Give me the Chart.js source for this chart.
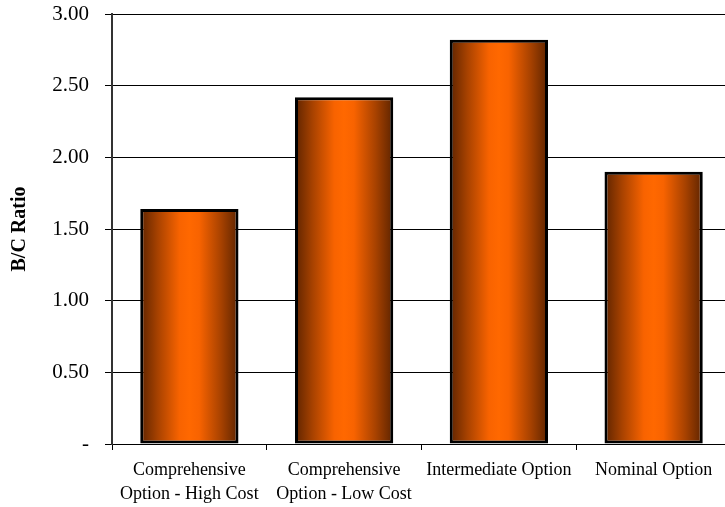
<!DOCTYPE html>
<html>
<head>
<meta charset="utf-8">
<script src="https://cdn.jsdelivr.net/npm/chart.js@4/dist/chart.umd.min.js"></script>
<style>
  html, body { margin: 0; padding: 0; background: #fff; overflow: hidden; width: 725px; height: 507px; }
  #wrap { width: 725px; height: 507px; overflow: hidden; }
  canvas { display: block; }
</style>
</head>
<body>
<div id="wrap"><canvas id="c" width="731" height="507"></canvas></div>
<script>
// B/C ratio per option
const categories = [
  ['Comprehensive', 'Option - High Cost'],
  ['Comprehensive', 'Option - Low Cost'],
  'Intermediate Option',
  'Nominal Option'
];
const bcRatio = [1.64, 2.42, 2.82, 1.90];
const yTickValues = [0, 0.5, 1.0, 1.5, 2.0, 2.5, 3.0];
const yTickLabels = ['-', '0.50', '1.00', '1.50', '2.00', '2.50', '3.00'];

const FONT = "'Liberation Serif', 'Times New Roman', serif";
const BAR_PCT = 0.635;

// Horizontal "cylinder" shading: dark brown edges, bright orange centre
function barGradient(ctx) {
  const chart = ctx.chart;
  const xs = chart.scales && chart.scales.x;
  if (!xs || !chart.chartArea) return '#ff6600';
  const cx = xs.getPixelForValue(ctx.dataIndex);
  const w = (xs.width / categories.length) * BAR_PCT;
  const g = chart.ctx.createLinearGradient(cx - w / 2, 0, cx + w / 2, 0);
  g.addColorStop(0.00, '#5e2400');
  g.addColorStop(0.18, '#a84200');
  g.addColorStop(0.40, '#f86300');
  g.addColorStop(0.50, '#ff6800');
  g.addColorStop(0.60, '#f86300');
  g.addColorStop(0.82, '#a84200');
  g.addColorStop(1.00, '#5e2400');
  return g;
}

new Chart(document.getElementById('c'), {
  type: 'bar',
  data: {
    labels: categories,
    datasets: [{
      data: bcRatio,
      backgroundColor: barGradient,
      borderColor: '#000',
      borderWidth: 3,
      borderSkipped: false,
      barPercentage: BAR_PCT,
      categoryPercentage: 1.0
    }]
  },
  options: {
    responsive: false,
    animation: false,
    devicePixelRatio: 1,
    layout: { padding: { top: 14, left: 0, right: 0, bottom: 0 } },
    plugins: { legend: { display: false }, tooltip: { enabled: false } },
    scales: {
      x: {
        offset: true,
        grid: {
          offset: true,
          drawOnChartArea: false,
          drawTicks: true,
          tickLength: 6,
          color: '#000',
          lineWidth: 1
        },
        border: { color: '#000', width: 1 },
        ticks: {
          color: '#000',
          padding: 8,
          maxRotation: 0,
          autoSkip: false,
          font: { family: FONT, size: 18, lineHeight: 1.33 }
        },
        afterFit(scale) {
          scale.height = 63;
          scale.paddingLeft = 0;
          scale.paddingRight = 0;
          scale.paddingTop = 0;
          scale.paddingBottom = 0;
        }
      },
      y: {
        min: 0,
        max: 3,
        afterBuildTicks(scale) {
          scale.ticks = yTickValues.map(v => ({ value: v }));
        },
        grid: {
          color: '#000',
          lineWidth: 1,
          drawTicks: true,
          tickLength: 7
        },
        border: { color: '#333', width: 2 },
        ticks: {
          color: '#000',
          padding: 16,
          font: { family: FONT, size: 21 },
          callback(value) {
            const i = yTickValues.indexOf(value);
            return i >= 0 ? yTickLabels[i] : '';
          }
        },
        title: {
          display: true,
          text: 'B/C Ratio',
          color: '#000',
          padding: { top: 8, bottom: 0 },
          font: { family: FONT, size: 20, weight: 'bold' }
        },
        afterFit(scale) {
          scale.width = 112;
          scale.paddingTop = 0;
          scale.paddingBottom = 0;
        }
      }
    }
  }
});
</script>
</body>
</html>
